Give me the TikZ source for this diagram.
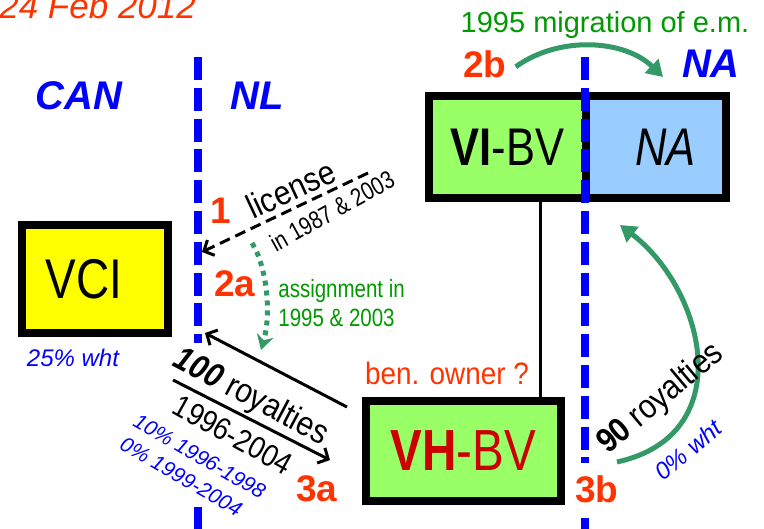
\documentclass[tikz,border=0pt]{standalone}
\usepackage{fontspec}
\setmainfont{Liberation Sans}
\usepackage{graphicx}
\usetikzlibrary{arrows.meta}

\definecolor{lblred}{HTML}{FF3300}
\definecolor{cntblue}{HTML}{0000FF}
\definecolor{txtgreen}{HTML}{009900}
\definecolor{arrgreen}{HTML}{339966}
\definecolor{boxgreen}{HTML}{99FF66}
\definecolor{boxblue}{HTML}{99CCFF}
\definecolor{boxyellow}{HTML}{FFFF00}
\definecolor{vhred}{HTML}{CC0000}

\newcommand{\nrw}[1]{\scalebox{0.82}[1]{#1}}
\newcommand{\nrwl}[1]{\scalebox{0.88}[1]{#1}}
\newcommand{\fsz}[1]{\fontsize{#1}{#1}\selectfont}

\tikzset{every picture/.style={line width=0.75pt}}
\tikzset{
  entity/.style={draw=black, line width=8pt, inner sep=0pt},
  country/.style={text=cntblue, font=\fsz{40}\bfseries\itshape, inner sep=0.75pt, anchor=base},
  steplbl/.style={text=lblred, font=\fsz{37}\bfseries, inner sep=0.75pt, anchor=base},
  wht/.style={text=cntblue, font=\fsz{22}\itshape, inner sep=0.75pt},
  flow/.style={draw=black, line width=3pt, -{Straight Barb[length=8pt,width=17pt]}},
  move/.style={draw=arrgreen, line width=5pt, -{Triangle[length=16pt,width=19pt]}},
  treaty/.style={draw=cntblue, line width=8pt, dash pattern=on 23pt off 7.8pt},
}

\begin{document}
\begin{tikzpicture}[x=1pt,y=1pt,yscale=-1,xscale=1]
\useasboundingbox (0,0) rectangle (764,529);

%Straight Lines: owner link
\coordinate (own) at (540,300);

%Shape: Rectangle VCI
\node [entity, fill=boxyellow, minimum width=146pt, minimum height=108pt] (vci) at (95,279) {\fsz{56}\nrw{VCI}\hspace*{22pt}};
%Shape: Rectangle VI-BV (two halves)
\node [inner sep=0pt, fill=boxgreen, minimum width=157pt, minimum height=102pt] (vibv) at (507.5,147) {\fsz{53}\nrw{\textbf{VI}-BV}};
\node [inner sep=0pt, fill=boxblue, minimum width=141pt, minimum height=102pt] (vina) at (655.5,147) {\hspace*{20pt}\fsz{53}\nrw{\itshape NA}};
\draw [line width=3pt] (vibv.south -| own) -- (own |- 0,401);
\draw [line width=8pt] (vibv.north west) rectangle (vina.south east);
\draw [line width=8pt] (vibv.north east) -- (vibv.south east);
%Shape: Rectangle VH-BV
\node [entity, fill=boxgreen, text=vhred, minimum width=195pt, minimum height=100pt] (vhbv) at (463.5,451) {\fsz{58}\nrw{\textbf{VH}-BV}};

%Straight Lines: treaty borders
\coordinate (bcan1) at (197.5,57);
\coordinate (bcan2) at (197.5,343);
\coordinate (bcan3) at (197.5,507);
\coordinate (bcan4) at (197.5,529);
\draw [treaty] (bcan1) -- (bcan2);
\draw [treaty] (bcan3) -- (bcan4);
\coordinate (bna1) at (585,57);
\coordinate (bna2) at (585,463);
\coordinate (bna3) at (585,518);
\coordinate (bna4) at (585,529);
\draw [treaty] (bna1) -- (bna2);
\draw [treaty] (bna3) -- (bna4);

% Text Node
\node [anchor=base west, inner sep=0pt, text=lblred, font=\fsz{35}\itshape] (date) at (-1,19) {24 Feb 2012};
% Text Node
\node [country] (lblcan) at (79,110) {CAN};
\node [country] (lblnl) at (257,110) {NL};
\node [country] (lblna) at (711,78) {NA};
% Text Node
\node [steplbl] (s1) at (221,224) {1};
\node [steplbl] (s2a) at (235,297) {2a};
\node [steplbl] (s2b) at (485,78) {2b};
\node [steplbl] (s3a) at (317,502) {3a};
\node [steplbl] (s3b) at (597,503) {3b};
% Text Node
\node [anchor=base, inner sep=0pt, text=txtgreen, font=\fsz{29}] (mig) at (605,33) {1995 migration of e.m.};
\node [anchor=base, inner sep=0pt, text=lblred, font=\fsz{31}] (ben) at (447,385) {\scalebox{0.9}[1]{ben. owner ?}};
\node [wht, anchor=base, font=\fsz{24}\itshape] (wcan) at (73,367) {25\% wht};

%Curve Lines: migration
\coordinate (migend) at (663,77);
\draw [move] ([xshift=8pt,yshift=2pt]s2b.east) .. controls (560,35) and (625,40) .. (migend);

%Straight Lines: license
\coordinate (licfrom) at (368,173);
\coordinate (licto) at (202,252);
\draw [flow, dash pattern=on 11pt off 6pt] (licfrom) -- (licto);
\node [rotate=25, inner sep=0pt, font=\fsz{34}] (lic) at (291,189) {\nrwl{license}};
\node [rotate=29, inner sep=0pt, font=\fsz{25}] (licyr) at (332,211) {\nrw{in 1987 \& 2003}};

%Curve Lines: assignment
\coordinate (asgfrom) at (252,243);
\coordinate (asgto) at (261,350);
\draw [draw=arrgreen, line width=5pt, dash pattern=on 5pt off 5pt, -{Stealth[length=15pt,width=17pt]}] (asgfrom) .. controls (266,265) and (272,312) .. (asgto);
\node [anchor=west, align=left, inner sep=0pt, text=txtgreen, font=\fontsize{25}{29}\selectfont] (asg) at (278,303) {\nrw{assignment in}\\\nrw{1995 \& 2003}};

%Straight Lines: royalties to CAN
\coordinate (roy1from) at (347,407);
\coordinate (roy1to) at (205,333);
\draw [flow] (roy1from) -- (roy1to);
\coordinate (roy2from) at (173,380);
\coordinate (roy2to) at (330,460);
\draw [flow] (roy2from) -- (roy2to);
\node [rotate=-28, inner sep=0pt, font=\fsz{34}] (roy100) at (251,398) {\nrwl{\textbf{\textit{100}} royalties}};
\node [rotate=-29, inner sep=0pt, font=\fsz{31}] (royyr) at (233,435) {\nrwl{1996-2004}};
\node [wht, rotate=-30, align=left, font=\fontsize{21}{27}\itshape] (whtnl) at (193,468) {10\% 1996-1998\\0\% 1999-2004};

%Curve Lines: royalties to NA
\coordinate (roy3from) at (617,462);
\coordinate (roy3to) at (620,225);
\draw [move] (roy3from) .. controls (740,435) and (705,290) .. (roy3to);
\node [rotate=40, inner sep=0pt, font=\fsz{34}] (roy90) at (661,399) {\nrwl{\textbf{90} royalties}};
\node [wht, rotate=40, font=\fsz{24}\itshape] (whtna) at (688,450) {0\% wht};

\end{tikzpicture}
\end{document}
